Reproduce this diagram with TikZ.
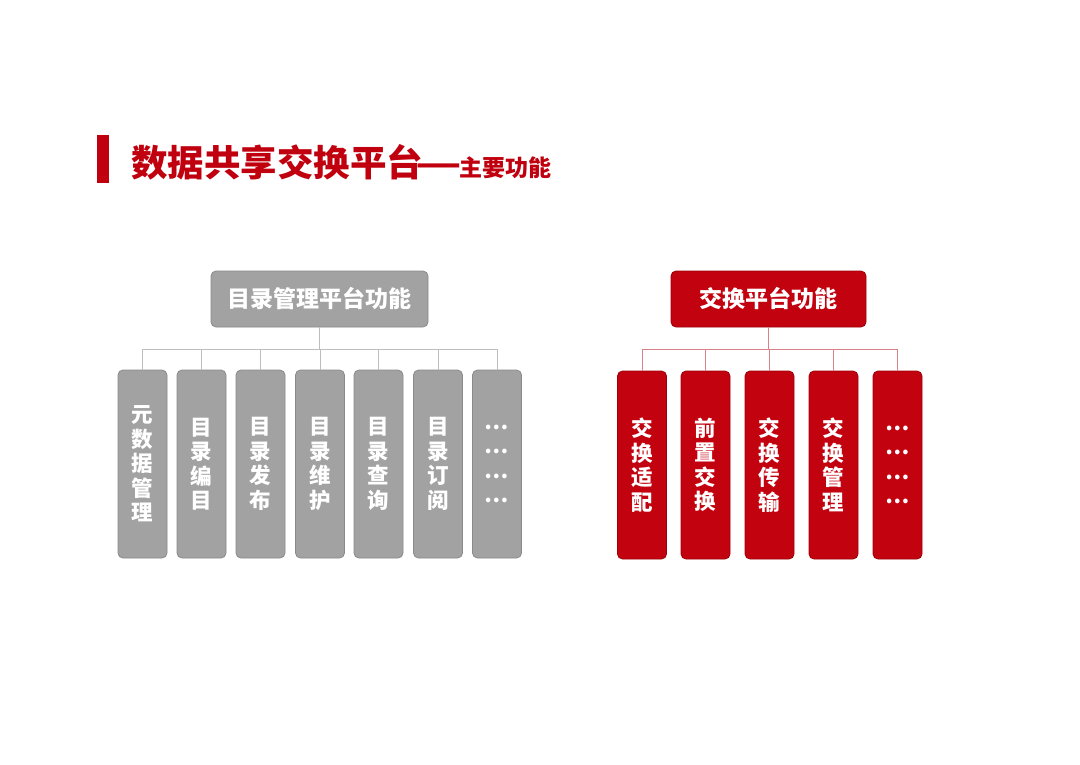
\documentclass[tikz,border=0pt]{standalone}
\usepackage{fontspec}
\usepackage{graphicx}
\setmainfont{Noto Sans CJK SC}
\begin{document}
\definecolor{tred}{HTML}{C0000E}
\definecolor{rfill}{HTML}{C2020F}
\definecolor{rborder}{HTML}{9E0008}
\definecolor{gfill}{HTML}{A2A2A2}
\definecolor{gborder}{HTML}{8A8A8A}
\definecolor{gline}{HTML}{BDBDBD}
\definecolor{rline}{HTML}{D98088}
\begin{tikzpicture}[x=1pt,y=-1pt,
  gbox/.style={draw=gborder,fill=gfill,rounded corners=5pt,line width=0.8pt,inner sep=0pt,text=white,font=\bfseries},
  rbox/.style={draw=rborder,fill=rfill,rounded corners=5pt,line width=0.8pt,inner sep=0pt,text=white,font=\bfseries},
  headbox/.style={minimum width=217pt,minimum height=56pt,font=\fontsize{23}{23}\bfseries\selectfont},
  colbox/.style={minimum width=49pt,minimum height=188pt,align=center,font=\fontsize{21.5}{24.5}\bfseries\selectfont},
  glink/.style={draw=gline,line width=0.8pt},
  rlink/.style={draw=rline,line width=0.8pt}]
\useasboundingbox[fill=white] (0,0) rectangle (1080,764);
% title
\fill[tred] (97,135) rectangle (109,183);
\node[anchor=base west,inner sep=0pt,text=tred,font=\fontsize{36.5}{36.5}\bfseries\selectfont] (title) at (131,176.5)
  {数据共享交换平台\hspace{-8pt}\scalebox{1.4}[1]{—}\hspace{-2pt}{\fontsize{23}{23}\selectfont 主要功能}};
% left group
\node[gbox,headbox] (lh) at (319.5,299) {目录管理平台功能};
\node[gbox,colbox] (l1) at (142.5,464) {元\\数\\据\\管\\理};
\node[gbox,colbox] (l2) at (201.5,464) {目\\录\\编\\目};
\node[gbox,colbox] (l3) at (260.5,464) {目\\录\\发\\布};
\node[gbox,colbox] (l4) at (320,464) {目\\录\\维\\护};
\node[gbox,colbox] (l5) at (378.5,464) {目\\录\\查\\询};
\node[gbox,colbox] (l6) at (438,464) {目\\录\\订\\阅};
\node[gbox,colbox] (l7) at (497,464) {…\\…\\…\\…};
\coordinate (lbus) at (0,349);
\draw[glink] (lh.south) -- (lh.south |- lbus);
\draw[glink] (l1.north |- lbus) -- (l7.north |- lbus);
\foreach \i in {1,...,7} \draw[glink] (l\i.north |- lbus) -- (l\i.north);
% right group
\node[rbox,headbox,minimum width=195pt] (rh) at (768.5,299) {交换平台功能};
\node[rbox,colbox] (r1) at (642,465) {交\\换\\适\\配};
\node[rbox,colbox] (r2) at (705.5,465) {前\\置\\交\\换};
\node[rbox,colbox] (r3) at (769.5,465) {交\\换\\传\\输};
\node[rbox,colbox] (r4) at (833.5,465) {交\\换\\管\\理};
\node[rbox,colbox] (r5) at (897.5,465) {…\\…\\…\\…};
\coordinate (rbus) at (0,349);
\draw[rlink] (rh.south) -- (rh.south |- rbus);
\draw[rlink] (r1.north |- rbus) -- (r5.north |- rbus);
\foreach \i in {1,...,5} \draw[rlink] (r\i.north |- rbus) -- (r\i.north);
\end{tikzpicture}
\end{document}
